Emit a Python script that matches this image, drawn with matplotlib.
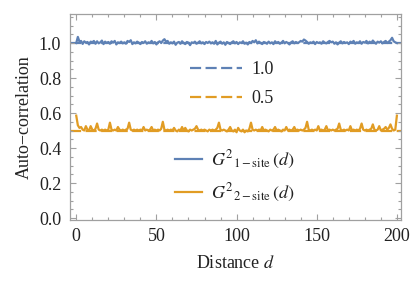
import matplotlib
matplotlib.use("Agg")
import matplotlib.pyplot as plt
import numpy as np

plt.rcParams['font.family'] = 'Liberation Serif'
plt.rcParams['mathtext.fontset'] = 'stix'
plt.rcParams['font.size'] = 13

# distance d = 0..200
d = np.arange(201)

# one-site auto-correlation
g1 = [1.000, 1.035, 1.008, 1.012, 0.995, 1.010, 1.002, 1.006, 0.992, 1.008,
      1.004, 1.012, 0.996, 1.010, 0.998, 1.004, 1.014, 0.994, 1.008, 1.000,
      1.006, 0.996, 1.010, 1.002, 1.012, 0.992, 1.004, 1.000, 1.008, 0.998,
      1.004, 0.996, 1.012, 1.006, 1.016, 0.994, 1.004, 0.998, 1.008, 1.002,
      0.994, 1.006, 1.000, 1.010, 0.996, 1.004, 1.000, 1.012, 0.998, 1.006,
      0.992, 1.004, 1.010, 1.000, 1.014, 1.022, 1.008, 1.012, 0.996, 1.004,
      0.998, 1.008, 0.990, 1.002, 1.006, 0.996, 1.010, 1.000, 0.994, 1.006,
      1.002, 0.988, 1.004, 1.000, 1.008, 0.996, 1.002, 1.010, 0.998, 1.004,
      0.994, 1.006, 1.000, 1.008, 0.998, 1.004, 0.996, 1.012, 0.992, 1.002,
      1.008, 0.996, 1.004, 0.990, 1.006, 1.000, 0.994, 1.004, 1.010, 0.998,
      1.006, 0.994, 1.004, 1.000, 1.010, 0.996, 1.002, 0.992, 1.006, 1.000,
      1.012, 1.004, 1.016, 0.998, 1.008, 1.000, 0.994, 1.006, 1.002, 0.996,
      1.008, 0.998, 1.004, 0.994, 1.010, 1.000, 1.006, 0.996, 1.002, 1.012,
      0.998, 1.006, 1.000, 0.992, 1.004, 1.010, 0.998, 1.006, 1.000, 1.004,
      1.012, 1.008, 1.020, 1.014, 1.006, 0.996, 1.004, 1.000, 1.008, 0.994,
      1.006, 1.000, 1.004, 0.996, 1.010, 1.002, 0.998, 1.006, 1.012, 1.004,
      1.008, 0.996, 1.004, 0.992, 1.002, 1.010, 0.998, 1.006, 1.000, 1.004,
      0.994, 1.008, 1.002, 1.012, 0.996, 1.004, 1.000, 1.010, 0.996, 1.006,
      1.002, 1.012, 0.998, 1.008, 1.000, 1.014, 1.004, 0.996, 1.008, 1.002,
      1.010, 0.998, 1.006, 1.012, 1.000, 1.008, 1.016, 1.030, 1.010, 1.004,
      1.000]

# two-site auto-correlation
g2 = [0.585, 0.530, 0.515, 0.520, 0.505, 0.500, 0.525, 0.505, 0.500, 0.525,
      0.505, 0.500, 0.510, 0.540, 0.505, 0.500, 0.505, 0.500, 0.505, 0.500,
      0.505, 0.545, 0.505, 0.500, 0.505, 0.500, 0.520, 0.505, 0.500, 0.505,
      0.500, 0.505, 0.510, 0.545, 0.505, 0.500, 0.505, 0.500, 0.505, 0.500,
      0.505, 0.500, 0.520, 0.500, 0.505, 0.500, 0.505, 0.520, 0.500, 0.505,
      0.500, 0.505, 0.500, 0.510, 0.550, 0.505, 0.500, 0.505, 0.500, 0.505,
      0.500, 0.515, 0.500, 0.495, 0.505, 0.500, 0.520, 0.500, 0.515, 0.500,
      0.495, 0.505, 0.500, 0.505, 0.510, 0.525, 0.505, 0.500, 0.505, 0.500,
      0.505, 0.500, 0.495, 0.505, 0.500, 0.505, 0.500, 0.505, 0.515, 0.545,
      0.505, 0.500, 0.505, 0.500, 0.495, 0.505, 0.520, 0.500, 0.495, 0.505,
      0.490, 0.515, 0.500, 0.495, 0.505, 0.490, 0.500, 0.495, 0.510, 0.545,
      0.505, 0.500, 0.505, 0.500, 0.505, 0.500, 0.520, 0.500, 0.505, 0.500,
      0.495, 0.505, 0.500, 0.505, 0.520, 0.500, 0.505, 0.500, 0.495, 0.505,
      0.500, 0.520, 0.500, 0.505, 0.500, 0.505, 0.520, 0.500, 0.505, 0.500,
      0.505, 0.500, 0.505, 0.515, 0.550, 0.505, 0.500, 0.505, 0.500, 0.505,
      0.500, 0.525, 0.500, 0.505, 0.500, 0.505, 0.525, 0.500, 0.505, 0.500,
      0.505, 0.500, 0.505, 0.510, 0.540, 0.505, 0.500, 0.505, 0.500, 0.505,
      0.500, 0.525, 0.500, 0.505, 0.500, 0.505, 0.500, 0.510, 0.540, 0.505,
      0.500, 0.505, 0.500, 0.505, 0.510, 0.535, 0.505, 0.500, 0.505, 0.525,
      0.500, 0.505, 0.510, 0.520, 0.505, 0.515, 0.535, 0.510, 0.500, 0.505,
      0.585]

ref_levels = [1.0, 0.5]
ref_labels = ['1.0', '0.5']
series_labels = [r'$G^{2}{}_{\mathrm{1-site}}\,(d)$',
                 r'$G^{2}{}_{\mathrm{2-site}}\,(d)$']

blue = '#5e81b5'
orange = '#e19c24'
colors = [blue, orange]
txt = '#222222'

fig = plt.figure(figsize=(4.15, 2.89), dpi=100)
ax = fig.add_axes([0.1675, 0.239, 0.7985, 0.7126])

ref_lines = []
for lev, c in zip(ref_levels, colors):
    ln = ax.axhline(lev, color=c, lw=1.6, dashes=(5, 2), zorder=1)
    ref_lines.append(ln)

data_lines = []
for vals, c in zip([g1, g2], colors):
    ln, = ax.plot(d, vals, color=c, lw=1.6, zorder=2)
    data_lines.append(ln)

ax.set_xlim(-4.2, 202.5)
ax.set_ylim(-0.011, 1.166)
ax.set_xticks([0, 50, 100, 150, 200])
ax.set_xticks(np.arange(0, 201, 10), minor=True)
ax.set_yticks([0.0, 0.2, 0.4, 0.6, 0.8, 1.0])
ax.set_yticks(np.arange(0, 1.16, 0.05), minor=True)
ax.yaxis.set_major_formatter(matplotlib.ticker.FormatStrFormatter('%.1f'))

frame_gray = '#a0a0a0'
for s in ax.spines.values():
    s.set_color(frame_gray)
    s.set_linewidth(0.9)
ax.tick_params(which='both', direction='in', top=True, right=True,
               color=frame_gray, labelcolor=txt, width=0.8)
ax.tick_params(which='major', length=4, pad=6)
ax.tick_params(which='minor', length=2)

ax.set_xlabel(r'Distance $d$', color=txt, labelpad=7)
ax.set_ylabel('Auto\u2212correlation', color=txt, labelpad=4)

leg1 = ax.legend(ref_lines, ref_labels, loc='upper left',
                 bbox_to_anchor=(0.363, 0.772), frameon=False, borderpad=0,
                 borderaxespad=0, handlelength=2.9, handletextpad=0.5,
                 labelspacing=0.67)
for t in leg1.get_texts():
    t.set_color(txt)
ax.add_artist(leg1)

leg2 = ax.legend(data_lines, series_labels, loc='upper left',
                 bbox_to_anchor=(0.318, 0.345), frameon=False, borderpad=0,
                 borderaxespad=0, handlelength=1.5, handletextpad=0.5,
                 labelspacing=0.6)
for t in leg2.get_texts():
    t.set_color(txt)

fig.savefig('out.png', dpi=100)
